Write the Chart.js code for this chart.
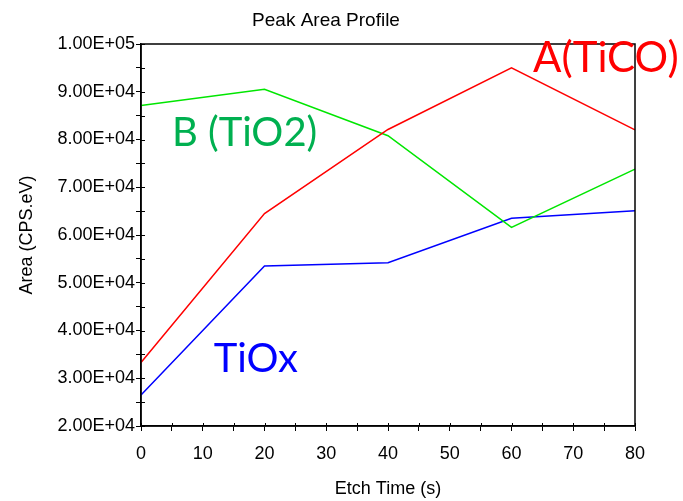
<!DOCTYPE html>
<html>
<head>
<meta charset="utf-8">
<script src="https://cdn.jsdelivr.net/npm/chart.js@4/dist/chart.umd.min.js"></script>
<style>
  html, body { margin: 0; padding: 0; background: #fff; }
  #wrap { width: 683px; height: 501px; }
</style>
</head>
<body>
<div id="wrap"><canvas id="peak" width="683" height="501"></canvas></div>
<script>
// etch time (s)
var etchTime = [0, 20, 40, 60, 80];
// peak areas (CPS.eV)
var areaTiCO = [33300, 64500, 82100, 95000, 82000];
var areaTiO2 = [87100, 90500, 80800, 61600, 73800];
var areaTiOx = [26500, 53500, 54200, 63500, 65100];

var seriesNames = ['A(TiCO)', 'B (TiO2)', 'TiOx'];
var seriesColors = ['#ff0000', '#00e600', '#0000ff'];

// text notes placed in data units (x = s, y = baseline value)
var notes = [
    { text: 'A(TiCO)', x: 63.5, y: 94100, color: '#ff0000', size: 42 },
    { text: 'B (TiO2)', x: 5.0, y: 78600, color: '#00b050', size: 40 },
    { text: 'TiOx', x: 11.8, y: 31300, color: '#0000ff', size: 40 }
];

function sciLabel(v) {
    var exp = Math.floor(Math.log10(v));
    var man = v / Math.pow(10, exp);
    var e = (exp < 10 ? '0' : '') + exp;
    return man.toFixed(2) + 'E+' + e;
}

function toPoints(ys) {
    var pts = [];
    for (var i = 0; i < etchTime.length; i++) {
        pts.push({ x: etchTime[i], y: ys[i] });
    }
    return pts;
}

// frame, inner tick halves, title and notes
var decor = {
    id: 'decor',
    afterDraw: function (chart) {
        var ctx = chart.ctx;
        var a = chart.chartArea;
        var xs = chart.scales.x, ys = chart.scales.y;
        ctx.save();
        ctx.strokeStyle = '#000';
        ctx.lineWidth = 1.5;
        ctx.strokeRect(a.left, a.top, a.right - a.left, a.bottom - a.top);
        ctx.lineWidth = 1;
        ctx.beginPath();
        xs.ticks.forEach(function (t) {
            var px = Math.round(xs.getPixelForValue(t.value)) + 0.5;
            ctx.moveTo(px, a.bottom);
            ctx.lineTo(px, a.bottom - 3);
        });
        ys.ticks.forEach(function (t) {
            var py = Math.round(ys.getPixelForValue(t.value)) + 0.5;
            ctx.moveTo(a.left, py);
            ctx.lineTo(a.left + 4, py);
        });
        ctx.stroke();

        ctx.fillStyle = '#000';
        ctx.font = '19px "Liberation Sans", Arial, sans-serif';
        ctx.textAlign = 'center';
        ctx.textBaseline = 'alphabetic';
        ctx.fillText('Peak Area Profile', 326, 26);

        ctx.textAlign = 'left';
        notes.forEach(function (n) {
            ctx.fillStyle = n.color;
            ctx.font = n.size + 'px Lato, "DejaVu Sans", sans-serif';
            ctx.fillText(n.text, xs.getPixelForValue(n.x), ys.getPixelForValue(n.y));
        });
        ctx.restore();
    }
};

var tickFont = { family: '"Liberation Sans", Arial, sans-serif', size: 18 };

var chart = new Chart(document.getElementById('peak'), {
    type: 'line',
    data: {
        datasets: [
            { label: seriesNames[0], data: toPoints(areaTiCO), borderColor: seriesColors[0] },
            { label: seriesNames[1], data: toPoints(areaTiO2), borderColor: seriesColors[1] },
            { label: seriesNames[2], data: toPoints(areaTiOx), borderColor: seriesColors[2] }
        ]
    },
    options: {
        responsive: false,
        animation: false,
        clip: false,
        layout: { padding: { top: 44, right: 48, left: 0, bottom: 0 } },
        elements: {
            line: { borderWidth: 1.5, tension: 0, fill: false },
            point: { radius: 0 }
        },
        plugins: {
            legend: { display: false },
            title: { display: false },
            tooltip: { enabled: false }
        },
        scales: {
            x: {
                type: 'linear',
                min: 0,
                max: 80,
                afterFit: function (s) { s.height = 75; },
                ticks: {
                    stepSize: 5,
                    padding: 12,
                    color: '#000',
                    font: tickFont,
                    maxRotation: 0,
                    autoSkip: false,
                    callback: function (v) { return v % 10 === 0 ? String(v) : ''; }
                },
                grid: { drawOnChartArea: false, tickLength: 5, color: '#000' },
                border: { display: true, color: '#000', width: 1.5 },
                title: {
                    display: true,
                    text: 'Etch Time (s)',
                    color: '#000',
                    font: tickFont,
                    padding: { top: 0, bottom: 1 }
                }
            },
            y: {
                min: 20000,
                max: 100000,
                afterFit: function (s) { s.width = 141; },
                ticks: {
                    stepSize: 5000,
                    padding: 1,
                    color: '#000',
                    font: tickFont,
                    autoSkip: false,
                    callback: function (v) { return v % 10000 === 0 ? sciLabel(v) : ''; }
                },
                grid: { drawOnChartArea: false, tickLength: 5, color: '#000' },
                border: { display: true, color: '#000', width: 1.5 },
                title: {
                    display: true,
                    text: 'Area (CPS.eV)',
                    color: '#000',
                    font: tickFont,
                    padding: { top: 16, bottom: 0 }
                }
            }
        }
    },
    plugins: [decor]
});
</script>
</body>
</html>
